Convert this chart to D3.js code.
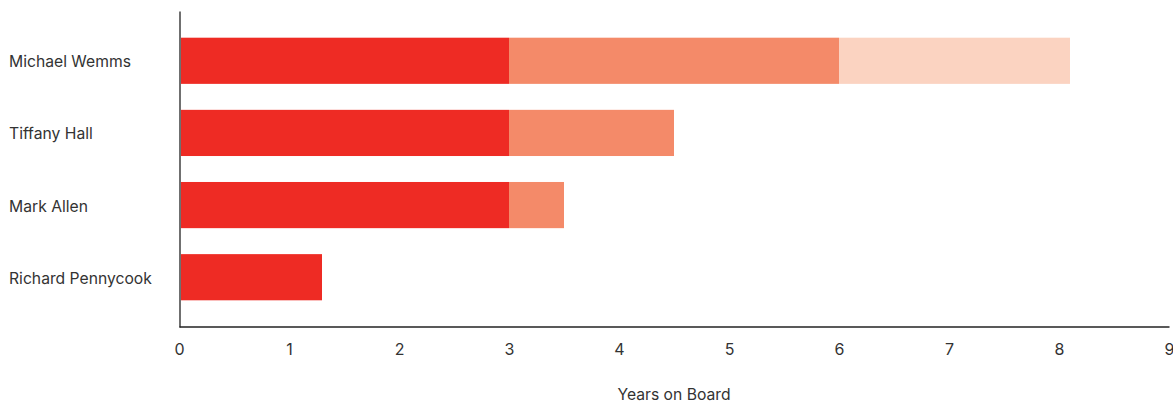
<!DOCTYPE html>
<html>
<head>
<meta charset="utf-8">
<script src="https://cdn.jsdelivr.net/npm/d3@7/dist/d3.min.js"></script>
<style>
  html, body { margin: 0; padding: 0; background: #fff; }
  svg { display: block; font-family: Inter, "Noto Sans", sans-serif; }
</style>
</head>
<body>
<svg id="chart" width="1173" height="403"></svg>
<script>
// Board members and their years served, split into consecutive terms
const members = ["Michael Wemms", "Tiffany Hall", "Mark Allen", "Richard Pennycook"];
const term1 = [3, 3, 3, 1.3];
const term2 = [3, 1.5, 0.5, 0];
const term3 = [2.1, 0, 0, 0];
const termColors = ["#ee2b24", "#f48a69", "#fbd3c1"];
const xTicks = [0, 1, 2, 3, 4, 5, 6, 7, 8, 9];
const xTitle = "Years on Board";

const svg = d3.select("#chart");
const plotLeft = 179, plotRight = 1169, plotTop = 11, plotBottom = 327;

const x = d3.scaleLinear().domain([0, 9]).range([plotLeft, plotRight]);
const y = d3.scaleBand().domain(members).range([plotTop, plotBottom])
  .paddingInner(0.36).paddingOuter(0.37);

const rows = members.map((name, i) => [term1[i], term2[i], term3[i]]);
const stack = d3.stack().keys([0, 1, 2])(rows);

stack.forEach((layer, k) => {
  svg.append("g")
    .selectAll("rect")
    .data(layer)
    .join("rect")
    .attr("x", d => x(d[0]) + (d[0] === 0 ? 2 : 0))
    .attr("y", (d, i) => y(members[i]))
    .attr("width", d => Math.max(0, x(d[1]) - x(d[0]) - (d[0] === 0 ? 2 : 0)))
    .attr("height", y.bandwidth())
    .attr("fill", termColors[k]);
});

// Axes
const xAxis = svg.append("g")
  .attr("transform", `translate(0,${plotBottom - 0.5})`)
  .call(d3.axisBottom(x).tickValues(xTicks).tickSize(0).tickPadding(17));
xAxis.select(".domain").attr("stroke", "#222").attr("stroke-width", 1.3);
xAxis.selectAll("text").attr("font-size", 16).attr("fill", "#333")
  .attr("font-family", "Inter, sans-serif");

const yAxis = svg.append("g")
  .attr("transform", `translate(${plotLeft + 0.5},0)`)
  .call(d3.axisLeft(y).tickSize(0).tickFormat(""));
yAxis.select(".domain").attr("stroke", "#222").attr("stroke-width", 1.3);

svg.append("g")
  .selectAll("text")
  .data(members)
  .join("text")
  .attr("x", 9)
  .attr("y", d => y(d) + y.bandwidth() / 2 + 1)
  .attr("dy", "0.35em")
  .attr("font-size", 15.7)
  .attr("fill", "#333")
  .text(d => d);

svg.append("text")
  .attr("x", (plotLeft + plotRight) / 2)
  .attr("y", 400)
  .attr("text-anchor", "middle")
  .attr("font-size", 15.7)
  .attr("fill", "#333")
  .text(xTitle);
</script>
</body>
</html>
